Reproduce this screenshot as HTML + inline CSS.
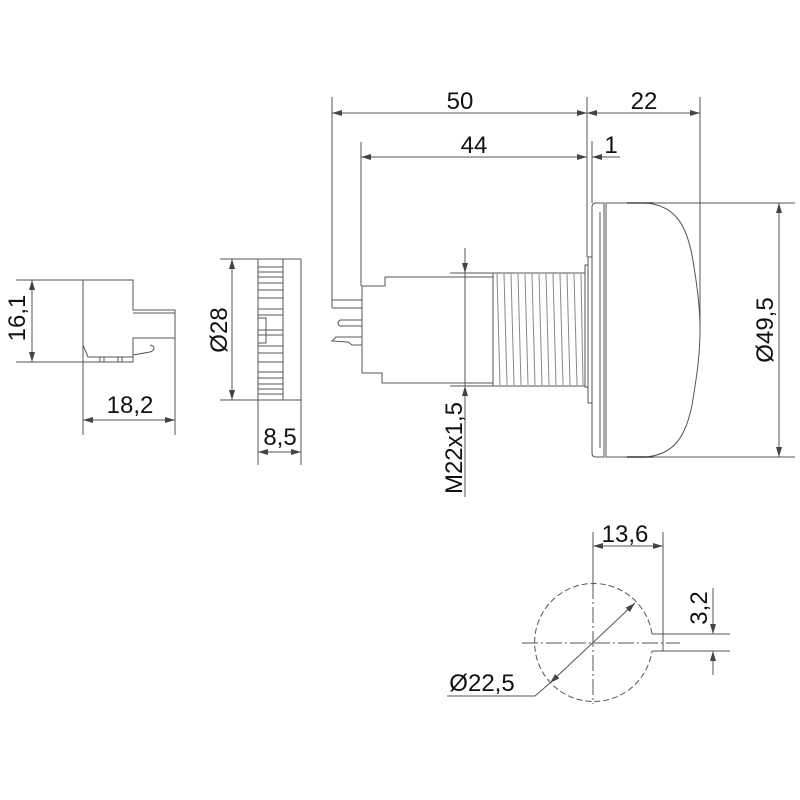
<!DOCTYPE html>
<html><head><meta charset="utf-8"><style>
html,body{margin:0;padding:0;background:#fff;}
svg{display:block;}
text{font-family:"Liberation Sans",sans-serif;font-size:24px;fill:#111;}
</style></head><body>
<svg width="800" height="800" viewBox="0 0 800 800" xmlns="http://www.w3.org/2000/svg">
<defs>
<marker id="a" viewBox="0 0 10 6" refX="10" refY="3" markerWidth="10" markerHeight="6" markerUnits="userSpaceOnUse" orient="auto-start-reverse"><path d="M0,0 L10,3 L0,6 Z" fill="#444"/></marker>
</defs>
<g stroke="#555" stroke-width="1" fill="none">
<!-- ===== Left connector part ===== -->
<path d="M83,280 H133 V310 H175 V338 H133 V362 H83 Z" fill="#fff"/>
<line x1="133" y1="313" x2="175" y2="313"/>
<path d="M133,355 L150,352 Q156,350 153,346 L150,345"/>
<path d="M83,345 L88,357 L133,357"/>
<path d="M100,357 V362 M104,357 V362 M118,357 V362 M122,357 V362"/>
<line x1="16" y1="280" x2="83" y2="280"/>
<line x1="16" y1="362" x2="83" y2="362"/>
<line x1="32" y1="280" x2="32" y2="362" marker-start="url(#a)" marker-end="url(#a)"/>
<line x1="83" y1="362" x2="83" y2="435"/>
<line x1="175" y1="338" x2="175" y2="435"/>
<line x1="83" y1="420" x2="175" y2="420" marker-start="url(#a)" marker-end="url(#a)"/>

<!-- ===== Ring part (Ø28) ===== -->
<rect x="258" y="259" width="25" height="141" fill="#fff"/>
<path d="M258,267H283M258,272H283M258,277H283M258,283H283M258,290H283M258,298H283M258,309H283M258,315H283M258,330H283M258,335H283M258,346H283M258,353H283M258,362H283M258,372H283M258,378H283M258,384H283M258,389H283M258,394H283"/>
<rect x="258" y="318" width="8" height="25"/>
<line x1="220" y1="259" x2="301" y2="259"/>
<line x1="220" y1="400" x2="301" y2="400"/>
<line x1="301" y1="259" x2="301" y2="465"/>
<line x1="258" y1="400" x2="258" y2="465"/>
<line x1="232" y1="259" x2="232" y2="400" marker-start="url(#a)" marker-end="url(#a)"/>
<line x1="258" y1="452" x2="301" y2="452" marker-start="url(#a)" marker-end="url(#a)"/>

<!-- ===== Main view ===== -->
<line x1="332" y1="97" x2="332" y2="308"/>
<path d="M332,300 H362 M332,308 H362"/>
<path d="M362,320 H340 Q336,323 340,326 H362"/>
<path d="M362,337 H336 L332,341 L348,342 L352,345 H362"/>
<path d="M362,286 V373 H382 V383 H493 V277 H385 V286 Z" fill="#fff"/>
<rect x="493" y="273" width="92" height="113" fill="#fff"/>
<path d="M497,274L500,385M504,274L507,385M511,274L514,385M518,274L521,385M525,274L528,385M532,274L535,385M539,274L542,385M546,274L549,385M553,274L556,385M560,274L563,385M567,274L570,385M574,274L577,385M581,274L583,385" stroke="#888"/>
<rect x="585" y="265" width="3" height="122"/>
<rect x="588" y="257" width="4" height="146"/>
<path d="M596,203 H604 V457 H596 Q592,457 592,453 V207 Q592,203 596,203 Z" fill="#fff"/>
<line x1="600" y1="212" x2="600" y2="448"/>
<path d="M606,203 H645 C675,205 686,225 692,255 C698,290 700,310 700,330 C700,350 698,370 692,405 C686,435 675,455 645,457 H606 Z" fill="#fff"/>
<path d="M627,203 H653 M627,457 H653" stroke="#333" stroke-width="1.5"/>
<line x1="587" y1="97" x2="587" y2="257"/>
<line x1="700" y1="97" x2="700" y2="330"/>
<line x1="332" y1="113" x2="587" y2="113" marker-start="url(#a)" marker-end="url(#a)"/>
<line x1="587" y1="113" x2="700" y2="113" marker-start="url(#a)" marker-end="url(#a)"/>
<line x1="361" y1="142" x2="361" y2="286"/>
<line x1="592" y1="141" x2="592" y2="203"/>
<line x1="361" y1="157" x2="587" y2="157" marker-start="url(#a)" marker-end="url(#a)"/>
<line x1="620" y1="157" x2="592" y2="157" marker-end="url(#a)"/>
<line x1="450" y1="273" x2="493" y2="273"/>
<line x1="450" y1="386" x2="493" y2="386"/>
<line x1="465" y1="248" x2="465" y2="273" marker-end="url(#a)"/>
<line x1="465" y1="497" x2="465" y2="386" marker-end="url(#a)"/>
<line x1="465" y1="273" x2="465" y2="386"/>
<line x1="606" y1="203" x2="795" y2="203"/>
<line x1="645" y1="457" x2="795" y2="457"/>
<line x1="779" y1="203" x2="779" y2="457" marker-start="url(#a)" marker-end="url(#a)"/>

<!-- ===== Cutout ===== -->
<path d="M652,634 A59,59 0 1 0 652,651" stroke-dasharray="6,3"/>
<path d="M652,634 H663 M652,651 H663"/>
<path d="M522,643 H680" stroke-dasharray="16,3,2,3"/>
<path d="M593,583 V704" stroke-dasharray="16,3,2,3"/>
<line x1="593" y1="532" x2="593" y2="584"/>
<line x1="663" y1="532" x2="663" y2="651"/>
<line x1="593" y1="546" x2="663" y2="546" marker-start="url(#a)" marker-end="url(#a)"/>
<line x1="663" y1="634" x2="730" y2="634"/>
<line x1="663" y1="651" x2="730" y2="651"/>
<line x1="713" y1="588" x2="713" y2="634" marker-end="url(#a)"/>
<line x1="713" y1="675" x2="713" y2="651" marker-end="url(#a)"/>
<line x1="635" y1="603" x2="550" y2="683" marker-start="url(#a)" marker-end="url(#a)"/>
<path d="M550,683 L535,696 H447"/>
</g>
<text x="460" y="109" text-anchor="middle">50</text>
<text x="644" y="109" text-anchor="middle">22</text>
<text x="474" y="153" text-anchor="middle">44</text>
<text x="611" y="153" text-anchor="middle">1</text>
<text x="130" y="413" text-anchor="middle">18,2</text>
<text x="280" y="445" text-anchor="middle">8,5</text>
<text x="625" y="542" text-anchor="middle">13,6</text>
<text x="482" y="691" text-anchor="middle">Ø22,5</text>
<text transform="translate(25,318) rotate(-90)" text-anchor="middle">16,1</text>
<text transform="translate(227,330) rotate(-90)" text-anchor="middle">Ø28</text>
<text transform="translate(462,448) rotate(-90)" text-anchor="middle">M22x1,5</text>
<text transform="translate(773,330) rotate(-90)" text-anchor="middle">Ø49,5</text>
<text transform="translate(707,608) rotate(-90)" text-anchor="middle">3,2</text>
</svg>
</body></html>
